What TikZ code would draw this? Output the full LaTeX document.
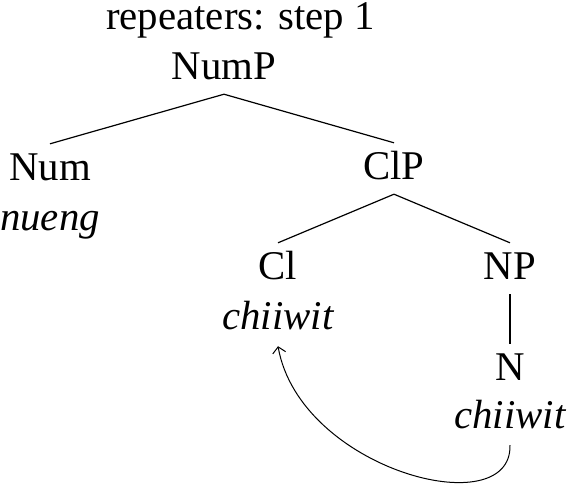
\documentclass[tikz,border=0pt]{standalone}
\usepackage{fontspec}
\setmainfont{Liberation Serif}
\usetikzlibrary{arrows.meta}
\begin{document}
\begin{tikzpicture}[x=1pt,y=-1pt,
  base/.style={anchor=base,inner sep=0pt,font=\fontsize{40.8}{49}\selectfont},
  cat/.style={base,text height=36pt,text depth=15pt},
  gl/.style={base,text height=30pt,text depth=17pt,font=\fontsize{40.8}{49}\selectfont\itshape},
  branch/.style={line width=1.2pt}]
\useasboundingbox (0,0) rectangle (568,488);
\node[base] (top) at (240.5,29) {repeaters: step 1};
\node[cat] (NumP) at (224,79) {NumP};
\node[cat] (Num) at (50,180) {Num};
\node[gl] (nueng) at (50,230) {nueng};
\node[cat] (ClP) at (394,179) {ClP};
\node[cat] (Cl) at (278,279) {Cl};
\node[gl] (cw1) at (278,329) {chiiwit};
\node[cat] (NP) at (510,279) {NP};
\node[cat] (N) at (510,380) {N};
\node[gl] (cw2) at (510,428) {chiiwit};
\draw[branch] (NumP.south) -- (Num.north);
\draw[branch] (NumP.south) -- (ClP.north);
\draw[branch] (ClP.south) -- (Cl.north);
\draw[branch] (ClP.south) -- (NP.north);
\draw[branch] (NP.south) -- (N.north);
\draw[line width=1pt,-{Straight Barb[length=6pt,width=13pt]}] (cw2.south) .. controls (512,525) and (300,470) .. (cw1.south);
\end{tikzpicture}
\end{document}
